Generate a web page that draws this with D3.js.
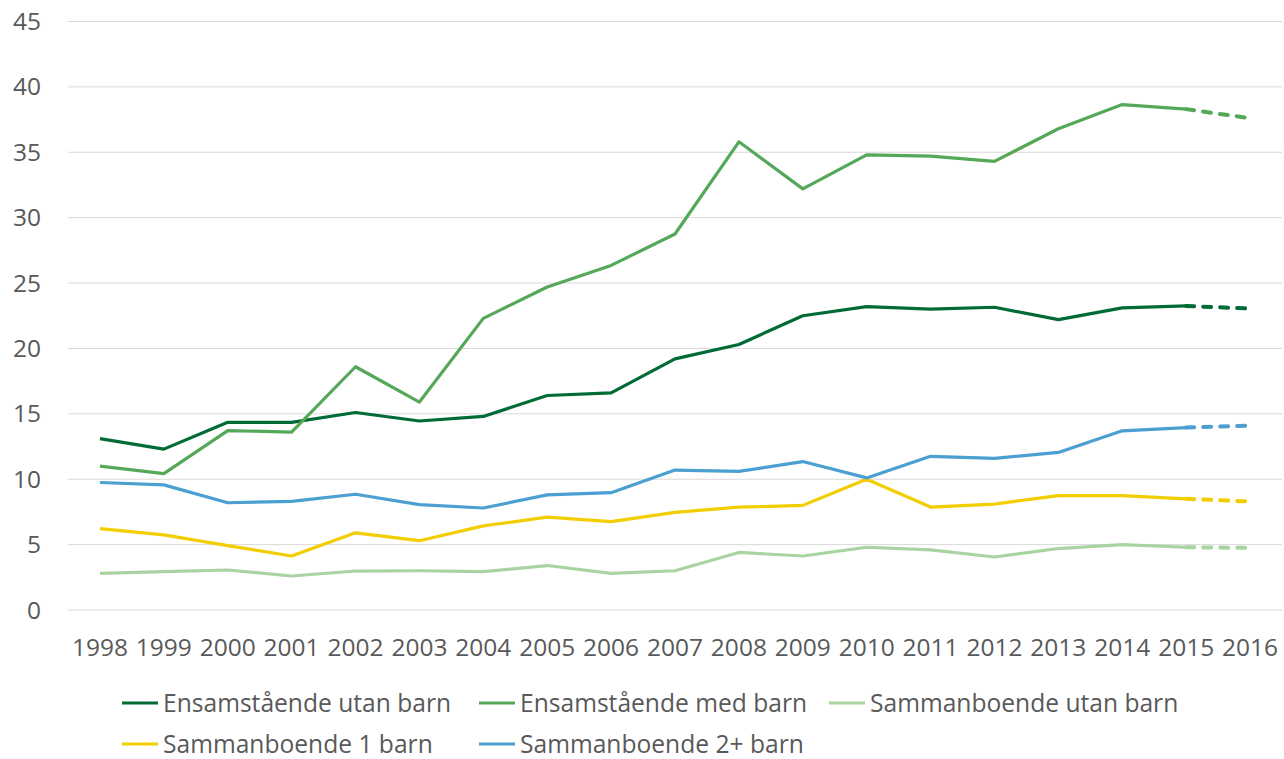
<!DOCTYPE html>
<html>
<head>
<meta charset="utf-8">
<script src="https://cdn.jsdelivr.net/npm/d3@7"></script>
<style>
    body { margin: 0; background: #fff; }
    text { font-family: 'Open Sans', sans-serif; fill: #595959; }
</style>
</head>
<body>
<svg id="chart" width="1284" height="759"></svg>
<script>
const years = ['1998', '1999', '2000', '2001', '2002', '2003', '2004', '2005', '2006', '2007',
    '2008', '2009', '2010', '2011', '2012', '2013', '2014', '2015', '2016'];
const yTicks = [0, 5, 10, 15, 20, 25, 30, 35, 40, 45];

const ensamUtanBarn = [13.1, 12.3, 14.35, 14.35, 15.1, 14.45, 14.8, 16.4, 16.6, 19.2,
    20.3, 22.5, 23.2, 23.0, 23.15, 22.2, 23.1, 23.25, 23.05];
const ensamMedBarn = [11.0, 10.43, 13.72, 13.6, 18.6, 15.9, 22.3, 24.7, 26.35, 28.75,
    35.8, 32.2, 34.8, 34.7, 34.3, 36.8, 38.65, 38.3, 37.6];
const sambUtanBarn = [2.8, 2.93, 3.06, 2.6, 2.98, 3.0, 2.93, 3.4, 2.8, 3.0,
    4.4, 4.13, 4.8, 4.6, 4.05, 4.7, 5.0, 4.8, 4.75];
const samb1Barn = [6.22, 5.74, 4.92, 4.13, 5.9, 5.3, 6.43, 7.1, 6.76, 7.47,
    7.86, 8.0, 10.0, 7.87, 8.1, 8.75, 8.75, 8.5, 8.3];
const samb2Barn = [9.75, 9.57, 8.2, 8.3, 8.85, 8.06, 7.8, 8.8, 8.97, 10.7,
    10.6, 11.35, 10.1, 11.75, 11.6, 12.05, 13.7, 13.95, 14.1];

// last year is a forecast, drawn dashed
const forecastYear = '2016';

const series = [
    {name: 'Ensamstående utan barn', values: ensamUtanBarn, color: '#006B35'},
    {name: 'Ensamstående med barn', values: ensamMedBarn, color: '#55A85A'},
    {name: 'Sammanboende utan barn', values: sambUtanBarn, color: '#A9D4A2'},
    {name: 'Sammanboende 1 barn', values: samb1Barn, color: '#F2CD00'},
    {name: 'Sammanboende 2+ barn', values: samb2Barn, color: '#4B9FD1'}
];

const svg = d3.select('#chart');

const x = d3.scalePoint()
    .domain(years)
    .range([68, 1282])
    .padding(0.5);

const y = d3.scaleLinear()
    .domain([0, 45])
    .range([610, 21.5]);

// grid
svg.append('g')
    .selectAll('line')
    .data(yTicks)
    .enter()
    .append('line')
    .attr('x1', 68)
    .attr('x2', 1282)
    .attr('y1', d => y(d))
    .attr('y2', d => y(d))
    .style('stroke', '#d9d9d9')
    .style('stroke-width', '1px');

// y labels
svg.append('g')
    .selectAll('text')
    .data(yTicks)
    .enter()
    .append('text')
    .attr('x', 41)
    .attr('y', d => y(d))
    .attr('dy', '0.35em')
    .attr('text-anchor', 'end')
    .style('font-size', '24.5px')
    .text(d => d);

// x labels
svg.append('g')
    .selectAll('text')
    .data(years)
    .enter()
    .append('text')
    .attr('x', d => x(d))
    .attr('y', 656)
    .attr('text-anchor', 'middle')
    .style('font-size', '24.5px')
    .text(d => d);

const line = d3.line()
    .x(d => x(d.year))
    .y(d => y(d.value));

const lines = svg.append('g');

series.forEach(function (s) {
    const pts = years.map((yr, i) => ({year: yr, value: s.values[i]}));
    const cut = years.indexOf(forecastYear);

    lines.append('path')
        .datum(pts.slice(0, cut))
        .attr('d', line)
        .style('fill', 'none')
        .style('stroke', s.color)
        .style('stroke-width', '3.2px')
        .style('stroke-linejoin', 'round');

    lines.append('path')
        .datum(pts.slice(cut - 1))
        .attr('d', line)
        .style('fill', 'none')
        .style('stroke', s.color)
        .style('stroke-width', '4px')
        .style('stroke-linecap', 'round')
        .style('stroke-dasharray', '8,9');
});

// legend
const legendPos = [
    {x: 122, y: 703}, {x: 479, y: 703}, {x: 829, y: 703},
    {x: 122, y: 744}, {x: 479, y: 744}
];

const legend = svg.append('g')
    .selectAll('g')
    .data(series)
    .enter()
    .append('g')
    .attr('transform', (d, i) => 'translate(' + legendPos[i].x + ',' + legendPos[i].y + ')');

legend.append('line')
    .attr('x1', 0)
    .attr('x2', 36)
    .style('stroke', d => d.color)
    .style('stroke-width', '3.2px');

legend.append('text')
    .attr('x', 41)
    .attr('dy', '0.35em')
    .style('font-size', '24.6px')
    .text(d => d.name);
</script>
</body>
</html>
